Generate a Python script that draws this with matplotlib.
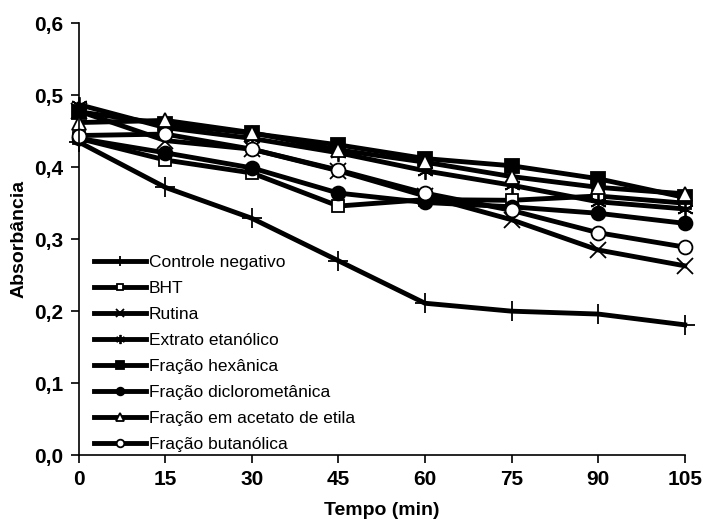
import matplotlib
matplotlib.use("Agg")
import matplotlib.pyplot as plt
from matplotlib.ticker import FuncFormatter, MultipleLocator

plt.rcParams['font.family'] = ['Liberation Sans', 'DejaVu Sans']

tempo = [0, 15, 30, 45, 60, 75, 90, 105]

controle = [0.435, 0.372, 0.329, 0.270, 0.211, 0.200, 0.196, 0.181]
bht = [0.440, 0.410, 0.392, 0.346, 0.355, 0.354, 0.360, 0.350]
rutina = [0.478, 0.437, 0.425, 0.395, 0.360, 0.327, 0.285, 0.263]
extrato = [0.487, 0.455, 0.440, 0.420, 0.395, 0.375, 0.352, 0.342]
hexanica = [0.477, 0.460, 0.447, 0.431, 0.412, 0.402, 0.384, 0.358]
diclorometanica = [0.440, 0.420, 0.399, 0.364, 0.351, 0.345, 0.336, 0.322]
acetato = [0.462, 0.465, 0.448, 0.424, 0.407, 0.387, 0.372, 0.363]
butanolica = [0.444, 0.446, 0.425, 0.396, 0.364, 0.340, 0.309, 0.289]

series = [
    ("Controle negativo", controle, '+', 'black', 14),
    ("BHT", bht, 's', 'white', 9),
    ("Rutina", rutina, 'x', 'black', 11),
    ("Extrato etanólico", extrato, (6, 2, 0), 'black', 12),
    ("Fração hexânica", hexanica, 's', 'black', 10),
    ("Fração diclorometânica", diclorometanica, 'o', 'black', 10),
    ("Fração em acetato de etila", acetato, '^', 'white', 10),
    ("Fração butanólica", butanolica, 'o', 'white', 10),
]

fig = plt.figure(figsize=(7.03, 5.28), dpi=100)
ax = fig.add_axes([0.112, 0.138, 0.862, 0.818])

for label, vals, mk, fc, ms in series:
    ax.plot(tempo, vals, color='black', linewidth=3.5, marker=mk,
            markersize=ms, markerfacecolor=fc, markeredgecolor='black',
            markeredgewidth=1.3, label=label, clip_on=False)

ax.set_xlim(0, 105)
ax.set_ylim(0, 0.6)
ax.xaxis.set_major_locator(MultipleLocator(15))
ax.yaxis.set_major_locator(MultipleLocator(0.1))
ax.yaxis.set_major_formatter(FuncFormatter(lambda v, p: f"{v:.1f}".replace('.', ',')))

for s in ['top', 'right']:
    ax.spines[s].set_visible(False)
ax.spines['left'].set_linewidth(1.2)
ax.spines['bottom'].set_linewidth(1.2)
ax.tick_params(direction='out', length=6, width=1.2, labelsize=15, pad=5)
for t in ax.get_xticklabels() + ax.get_yticklabels():
    t.set_fontweight('bold')

ax.set_xlabel("Tempo (min)", fontsize=14, fontweight='bold', labelpad=9)
ax.set_ylabel("Absorbância", fontsize=14, fontweight='bold', labelpad=5)

ax.legend(loc='lower left', bbox_to_anchor=(0.005, -0.02), frameon=False,
          fontsize=12.5, markerscale=0.55, handlelength=3.0, handletextpad=0.15,
          labelspacing=0.62, borderaxespad=0.3)

fig.savefig("out.png", dpi=100)
